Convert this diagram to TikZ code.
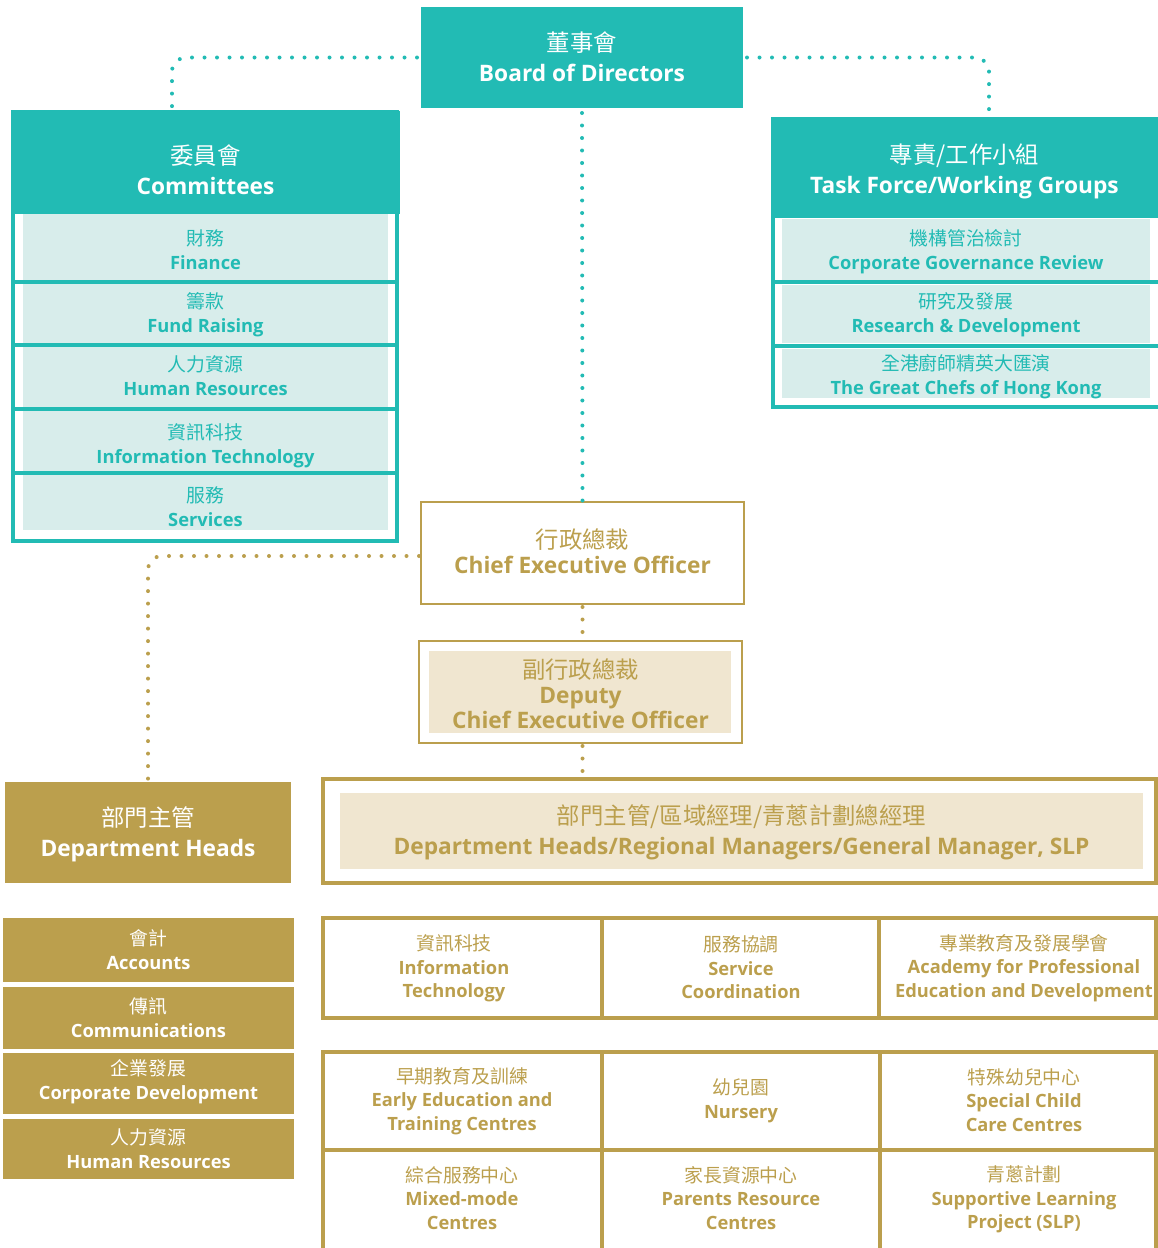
\documentclass[tikz,border=0pt]{standalone}
\usepackage{fontspec}
\setmainfont{Open Sans}
\newfontfamily\cjk[Scale=1.03]{Noto Sans CJK TC}
\newcommand\en{\rmfamily\bfseries}
\definecolor{tealc}{HTML}{22BBB4}
\definecolor{lteal}{HTML}{D8EDEB}
\definecolor{goldc}{HTML}{BB9F4D}
\definecolor{lgold}{HTML}{F0E6D0}
\tikzset{
  every node/.style={inner sep=0pt, outer sep=0pt},
  hdtext/.style={font=\fontsize{22.7}{30}\selectfont, text=white, align=center},
  rowtext/.style={font=\fontsize{18.3}{24}\selectfont, text=tealc, align=center},
  goldrowtext/.style={font=\fontsize{18.3}{24}\selectfont, text=white, align=center},
  ceotext/.style={font=\fontsize{22.7}{25}\selectfont, text=goldc, align=center},
  goldtext/.style={font=\fontsize{18.3}{23.5}\selectfont, text=goldc, align=center},
  bigtext/.style={font=\fontsize{22.7}{30}\selectfont, text=goldc, align=center},
  goldbox/.style={draw=goldc, line width=2.5pt},
  tealline/.style={draw=tealc, line width=4pt},
  goldline/.style={draw=goldc, line width=4pt},
  tealdots/.style={draw=tealc, line width=4pt, line cap=round, dash pattern=on 0pt off 12.5pt, rounded corners=14pt},
  golddots/.style={draw=goldc, line width=4pt, line cap=round, dash pattern=on 0pt off 12.5pt, rounded corners=14pt},
}
\begin{document}
\begin{tikzpicture}[x=1pt,y=-1pt]
\useasboundingbox (0,0) rectangle (1158,1248);
\clip (0,0) rectangle (1158,1248);

% ---- Board
\node[fill=tealc, minimum width=322, minimum height=101] (board) at (582,57.5) {};
\node[hdtext] (boardt) at (582,57) {{\cjk 董事會}\\{\en Board of Directors}};

% ---- Committees
\draw[tealline] (13,112) rectangle (397,541);
\fill[tealc] (11.5,111) rectangle (399.5,214);
\fill[lteal] (23,214) rectangle (388,280);
\fill[lteal] (23,284) rectangle (388,343);
\fill[lteal] (23,347) rectangle (388,407);
\fill[lteal] (23,411) rectangle (388,471);
\fill[lteal] (23,475) rectangle (388,530);
\draw[tealline] (13,282) -- (397,282);
\draw[tealline] (13,345) -- (397,345);
\draw[tealline] (13,409) -- (397,409);
\draw[tealline] (13,473) -- (397,473);
\node[hdtext] (comm) at (205.5,169.5) {{\cjk 委員會}\\{\en Committees}};
\node[rowtext] (fin) at (205.5,250) {{\cjk 財務}\\{\en Finance}};
\node[rowtext] (fund) at (205.5,314.5) {{\cjk 籌款}\\{\en Fund Raising}};
\node[rowtext] (hr) at (205.5,376) {{\cjk 人力資源}\\{\en Human Resources}};
\node[rowtext] (it) at (205.5,445.5) {{\cjk 資訊科技}\\{\en Information Technology}};
\node[rowtext] (serv) at (205.5,507) {{\cjk 服務}\\{\en Services}};

% ---- Task force
\fill[tealc] (771,117) rectangle (1158,218);
\fill[lteal] (782,219) rectangle (1150,280);
\fill[lteal] (782,285) rectangle (1150,343);
\fill[lteal] (782,349) rectangle (1150,398);
\draw[tealline] (773,117) -- (773,407) -- (1160,407);
\draw[tealline] (773,282) -- (1160,282);
\draw[tealline] (773,346) -- (1160,346);
\node[hdtext] (task) at (964.5,171) {{\cjk 專責/工作小組}\\{\en Task Force/Working Groups}};
\node[rowtext] (cgr) at (966,251.5) {{\cjk 機構管治檢討}\\{\en Corporate Governance Review}};
\node[rowtext] (rd) at (966,315) {{\cjk 研究及發展}\\{\en Research \& Development}};
\node[rowtext] (chef) at (966,376.5) {{\cjk 全港廚師精英大匯演}\\{\en The Great Chefs of Hong Kong}};

% ---- CEO and deputy
\node[goldbox, minimum width=323, minimum height=102] (ceo) at (582.5,553) {};
\node[ceotext] (ceot) at (582.5,551) {{\cjk 行政總裁}\\{\en Chief Executive Officer}};
\fill[lgold] (429,651) rectangle (731,733);
\node[goldbox, minimum width=323, minimum height=102] (dep) at (580.5,692) {};
\node[ceotext] (dept) at (580.5,694) {{\cjk 副行政總裁}\\{\en Deputy}\\{\en Chief Executive Officer}};

% ---- Department heads (left)
\node[fill=goldc, minimum width=286, minimum height=101] (dh) at (148,832.5) {};
\node[hdtext] (dht) at (148,834) {{\cjk 部門主管}\\{\en Department Heads}};
\fill[goldc] (3,918) rectangle (294,982);
\fill[goldc] (3,987) rectangle (294,1049);
\fill[goldc] (3,1053) rectangle (294,1114);
\fill[goldc] (3,1119) rectangle (294,1179);
\node[goldrowtext] (acc) at (148.5,950) {{\cjk 會計}\\{\en Accounts}};
\node[goldrowtext] (com) at (148.5,1017.5) {{\cjk 傳訊}\\{\en Communications}};
\node[goldrowtext] (cd) at (148.5,1081.5) {{\cjk 企業發展}\\{\en Corporate Development}};
\node[goldrowtext] (hr2) at (148.5,1148.5) {{\cjk 人力資源}\\{\en Human Resources}};

% ---- Big box
\fill[lgold] (340,793) rectangle (1143,869);
\node[draw=goldc, line width=4pt, minimum width=833, minimum height=104] (big) at (739.5,831) {};
\node[bigtext] (bigt) at (741.5,832)
  {{\cjk 部門主管/區域經理/青蔥計劃總經理}\\{\en Department Heads/Regional Managers/General Manager, SLP}};

% ---- Grid row 1
\draw[goldline] (323,918) rectangle (1156,1018);
\draw[goldline] (602,918) -- (602,1018);
\draw[goldline] (879,918) -- (879,1018);
\node[goldtext] (g1) at (454,968.5) {{\cjk 資訊科技}\\{\en Information}\\{\en Technology}};
\node[goldtext] (g2) at (741,967.5) {{\cjk 服務協調}\\{\en Service}\\{\en Coordination}};
\node[goldtext] (g3) at (1024,968) {{\cjk 專業教育及發展學會}\\{\en Academy for Professional}\\{\en Education and Development}};

% ---- Grid rows 2-3
\draw[goldline] (323,1052) rectangle (1156,1270);
\draw[goldline] (602,1052) -- (602,1260);
\draw[goldline] (880,1052) -- (880,1260);
\draw[goldline] (323,1150) -- (1156,1150);
\node[goldtext] (h1) at (462,1101) {{\cjk 早期教育及訓練}\\{\en Early Education and}\\{\en Training Centres}};
\node[goldtext] (h2) at (741,1101) {{\cjk 幼兒園}\\{\en Nursery}};
\node[goldtext] (h3) at (1024,1100) {{\cjk 特殊幼兒中心}\\{\en Special Child}\\{\en Care Centres}};
\node[goldtext] (k1) at (462,1198) {{\cjk 綜合服務中心}\\{\en Mixed-mode}\\{\en Centres}};
\node[goldtext] (k2) at (741,1198) {{\cjk 家長資源中心}\\{\en Parents Resource}\\{\en Centres}};
\node[goldtext] (k3) at (1024,1199.5) {{\cjk 青蔥計劃}\\{\en Supportive Learning}\\{\en Project (SLP)}};

% ---- Connectors
\coordinate (cl) at (172,108);
\coordinate (cr) at (989,110);
\coordinate (dhtop) at (148,781);
\draw[tealdots] ([xshift=-4pt]board.west) -| (cl);
\draw[tealdots] ([xshift=4pt]board.east) -| (cr);
\draw[tealdots] ([yshift=-5pt]board.south) -- ([yshift=1pt]ceo.north);
\draw[golddots] ([xshift=-2pt,yshift=-3pt]ceo.west) -| (dhtop);
\draw[golddots] ([yshift=-3pt]ceo.south) -- ([yshift=1pt]ceo.south |- dep.north);
\draw[golddots] ([yshift=-3pt]ceo.south |- dep.south) -- ([yshift=3pt]ceo.south |- big.north);
\end{tikzpicture}
\end{document}
